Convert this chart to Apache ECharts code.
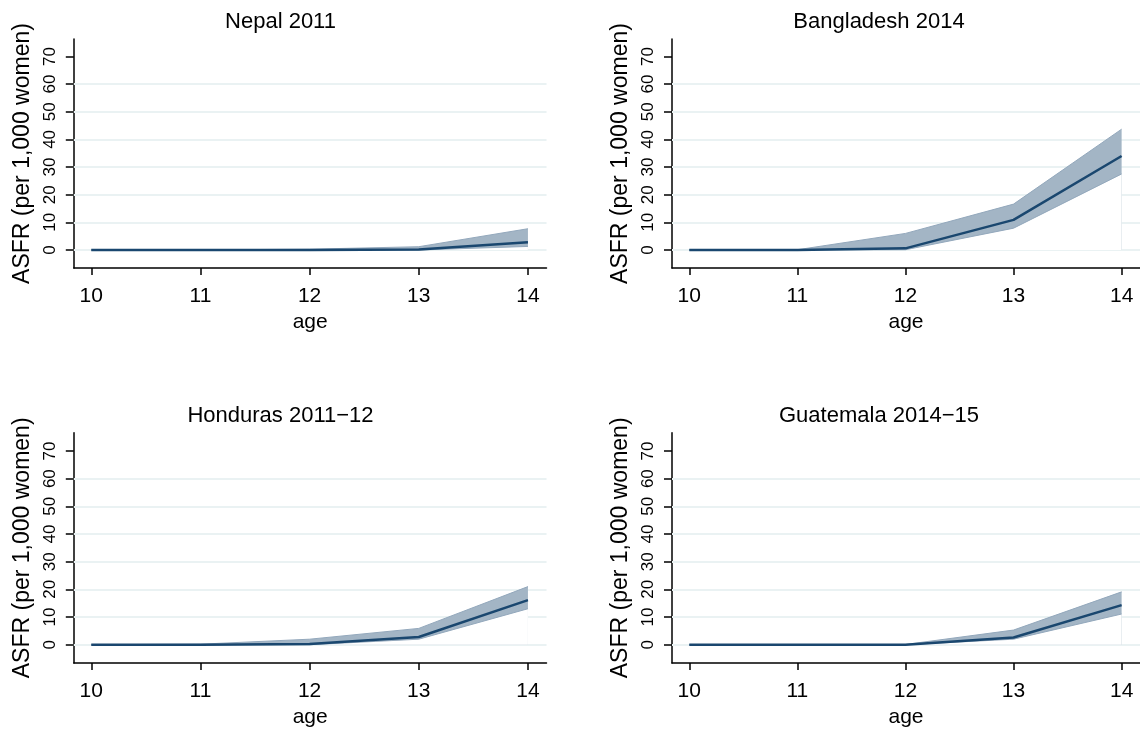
<!DOCTYPE html>
<html><head><meta charset="utf-8">
<script src="https://cdn.jsdelivr.net/npm/echarts@6/dist/echarts.min.js"></script>
<style>html,body{margin:0;padding:0;background:#fff}#c{width:1140px;height:729px}</style>
</head><body><div id="c"></div>
<script>
const ages = [10, 11, 12, 13, 14];
const titles = ['Nepal 2011', 'Bangladesh 2014', 'Honduras 2011\u221212', 'Guatemala 2014\u221215'];
const yTicks = [0, 10, 20, 30, 40, 50, 60, 70];
const gridValues = [0, 10, 20, 30, 40, 50, 60];
const xName = 'age';
const yName = 'ASFR (per 1,000 women)';

const nepalMean  = [0, 0, 0, 0.2, 2.8];
const nepalLower = [0, 0, 0, 0, 1.3];
const nepalUpper = [0, 0.05, 0.3, 1.2, 7.7];

const bangladeshMean  = [0, 0, 0.6, 10.9, 34.0];
const bangladeshLower = [0, 0, 0.1, 7.9, 27.5];
const bangladeshUpper = [0, 0.1, 6.0, 16.6, 43.7];

const hondurasMean  = [0, 0, 0.3, 2.8, 16.1];
const hondurasLower = [0, 0, 0, 2.0, 13.0];
const hondurasUpper = [0, 0.2, 2.0, 5.9, 21.0];

const guatemalaMean  = [0, 0, 0, 2.6, 14.3];
const guatemalaLower = [0, 0, 0, 2.0, 11.1];
const guatemalaUpper = [0, 0, 0.1, 5.3, 19.1];

const panels = [
  {mean: nepalMean, lower: nepalLower, upper: nepalUpper},
  {mean: bangladeshMean, lower: bangladeshLower, upper: bangladeshUpper},
  {mean: hondurasMean, lower: hondurasLower, upper: hondurasUpper},
  {mean: guatemalaMean, lower: guatemalaLower, upper: guatemalaUpper}
];

const FONT = '"Liberation Sans", Arial, Helvetica, sans-serif';
const NAVY = '#1a476f';
const BAND = '#a3b5c5';
const GRIDC = '#eaf2f3';

const layout = [
  {left: 73.8, top: 39, width: 472.7, height: 229, ymin: -6.5, ymax: 76.3, tx: 275.5},
  {left: 672, top: 39, width: 472.7, height: 229, ymin: -6.5, ymax: 76.3, tx: 874},
  {left: 73.8, top: 432.7, width: 472.7, height: 230.6, ymin: -6.6, ymax: 76.6, tx: 275.5},
  {left: 672, top: 432.7, width: 472.7, height: 230.6, ymin: -6.6, ymax: 76.6, tx: 874}
];

const grid = [], xAxis = [], yAxis = [], series = [], title = [];
layout.forEach((L, i) => {
  grid.push({left: L.left, top: L.top, width: L.width, height: L.height, containLabel: false});
  title.push({
    text: titles[i], left: L.tx, top: L.top - 33, textAlign: 'center',
    textStyle: {fontFamily: FONT, fontSize: 22, fontWeight: 'normal', color: '#000'}
  });
  xAxis.push({
    type: 'value', gridIndex: i, min: 9.84, max: 14.17,
    name: xName, nameLocation: 'middle', nameGap: 44,
    nameTextStyle: {fontFamily: FONT, fontSize: 21, color: '#000'},
    axisLine: {show: true, onZero: false, lineStyle: {color: '#000', width: 1.5}},
    axisTick: {show: true, length: 7, customValues: ages, lineStyle: {color: '#000', width: 1.5}},
    axisLabel: {customValues: ages, margin: 18, fontFamily: FONT, fontSize: 21, color: '#000'},
    splitLine: {show: false}
  });
  yAxis.push({
    type: 'value', gridIndex: i, min: L.ymin, max: L.ymax,
    name: yName, nameLocation: 'middle', nameGap: 40, nameRotate: 90,
    nameTextStyle: {fontFamily: FONT, fontSize: 23, color: '#000'},
    axisLine: {show: true, onZero: false, lineStyle: {color: '#000', width: 1.5}},
    axisTick: {show: true, length: 8, customValues: yTicks, lineStyle: {color: '#000', width: 1.5}},
    axisLabel: {customValues: yTicks, rotate: 90, margin: 15, fontFamily: FONT, fontSize: 17, color: '#000'},
    splitLine: {show: false}
  });
  const P = panels[i];
  const pts = (arr) => ages.map((a, k) => [a, arr[k]]);
  // gridlines (behind everything)
  series.push({
    type: 'line', xAxisIndex: i, yAxisIndex: i, z: 1, silent: true,
    data: pts(P.mean), showSymbol: false, lineStyle: {opacity: 0},
    markLine: {
      silent: true, z: 1, symbol: ['none', 'none'], label: {show: false},
      lineStyle: {color: GRIDC, width: 2, type: 'solid'},
      emphasis: {disabled: true},
      data: gridValues.map(v => ({yAxis: v}))
    }
  });
  // upper bound, filled with band colour down to 0
  series.push({
    type: 'line', xAxisIndex: i, yAxisIndex: i, z: 2, silent: true,
    data: pts(P.upper), showSymbol: false,
    lineStyle: {width: 1, color: '#93a8bc'},
    areaStyle: {color: BAND, opacity: 1, origin: 0}
  });
  // lower bound, filled white down to 0 (hides what lies beneath)
  series.push({
    type: 'line', xAxisIndex: i, yAxisIndex: i, z: 3, silent: true,
    data: pts(P.lower), showSymbol: false,
    lineStyle: {width: 1, color: '#93a8bc'},
    areaStyle: {color: '#ffffff', opacity: 1, origin: 0}
  });
  // mean line
  series.push({
    type: 'line', xAxisIndex: i, yAxisIndex: i, z: 4, silent: true,
    data: pts(P.mean), showSymbol: false,
    lineStyle: {width: 2.5, color: NAVY}
  });
});

const chart = echarts.init(document.getElementById('c'), null, {renderer: 'canvas'});
chart.setOption({
  backgroundColor: '#ffffff',
  animation: false,
  title, grid, xAxis, yAxis, series
});
</script>
</body></html>
